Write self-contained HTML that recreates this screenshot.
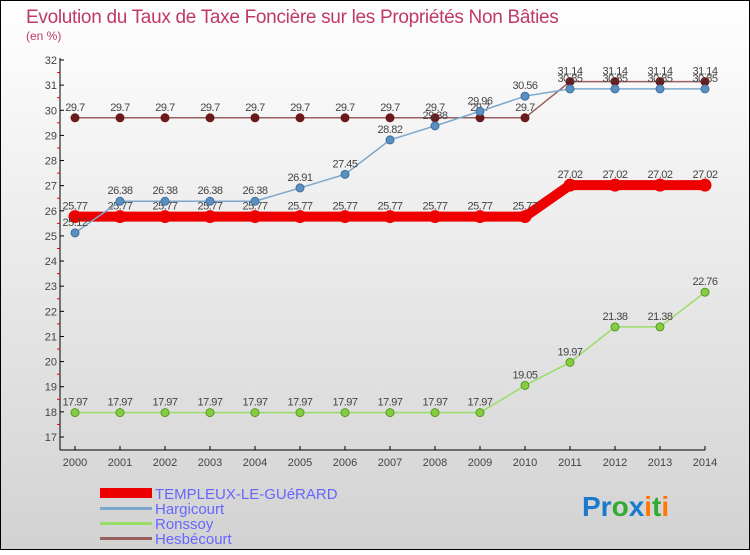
<!DOCTYPE html>
<html><head><meta charset="utf-8"><style>
html,body{margin:0;padding:0}
body{width:750px;height:550px;overflow:hidden;font-family:"Liberation Sans",sans-serif}
</style></head><body>
<svg id="chart" width="750" height="550" xmlns="http://www.w3.org/2000/svg">
<defs><linearGradient id="bg" x1="0" y1="0" x2="0" y2="1"><stop offset="0" stop-color="#ffffff"/><stop offset="1" stop-color="#d2d2d2"/></linearGradient></defs>
<rect x="0.5" y="0.5" width="749" height="549" fill="url(#bg)" stroke="#000"/>
<text x="26" y="23" font-size="19" fill="#c0386a" letter-spacing="-0.3">Evolution du Taux de Taxe Foncière sur les Propriétés Non Bâties</text>
<text x="26" y="40" font-size="12" fill="#c0386a">(en %)</text>
<g id="axes"></g><g id="series"></g>
<g>
<rect x="100" y="488" width="52" height="10" fill="#ee0000"/>
<text x="155" y="499" font-size="15" fill="#6666ff">TEMPLEUX-LE-GUéRARD</text>
<rect x="100" y="507" width="52" height="3" fill="#7ba7cc"/>
<text x="155" y="514" font-size="15" fill="#6666ff">Hargicourt</text>
<rect x="100" y="522" width="52" height="3" fill="#99dd66"/>
<text x="155" y="529" font-size="15" fill="#6666ff">Ronssoy</text>
<rect x="100" y="537" width="52" height="3" fill="#9a5f5f"/>
<text x="155" y="544" font-size="15" fill="#6666ff">Hesbécourt</text>
</g>
<text x="582" y="516" font-size="28" font-weight="bold"><tspan fill="#1a7acc">Pr</tspan><tspan fill="#33aa33">o</tspan><tspan fill="#1a7acc">x</tspan><tspan fill="#ff7700">i</tspan><tspan fill="#33aa33">t</tspan><tspan fill="#ff7700">i</tspan></text>
</svg>
<script>
const years=[2000,2001,2002,2003,2004,2005,2006,2007,2008,2009,2010,2011,2012,2013,2014];
const templeux=[25.77,25.77,25.77,25.77,25.77,25.77,25.77,25.77,25.77,25.77,25.77,27.02,27.02,27.02,27.02];
const hargicourt=[25.12,26.38,26.38,26.38,26.38,26.91,27.45,28.82,29.38,29.96,30.56,30.85,30.85,30.85,30.85];
const ronssoy=[17.97,17.97,17.97,17.97,17.97,17.97,17.97,17.97,17.97,17.97,19.05,19.97,21.38,21.38,22.76];
const hesbecourt=[29.7,29.7,29.7,29.7,29.7,29.7,29.7,29.7,29.7,29.7,29.7,31.14,31.14,31.14,31.14];
const yTicks=[17,18,19,20,21,22,23,24,25,26,27,28,29,30,31,32];
const NS='http://www.w3.org/2000/svg';
const X=i=>75+i*45;
const Y=v=>437-(v-17)*(377/15);
function mk(t,a,p){const e=document.createElementNS(NS,t);for(const k in a)e.setAttribute(k,a[k]);p.appendChild(e);return e;}
const ax=document.getElementById('axes');
let l=mk('line',{x1:60,y1:58,x2:60,y2:450,stroke:'#000'},ax);


l=mk('line',{x1:60,y1:450,x2:705,y2:450,stroke:'#000'},ax);


yTicks.forEach(v=>{
 mk('line',{x1:60,y1:Y(v),x2:64,y2:Y(v),stroke:'#000'},ax);
 if(v<32)mk('line',{x1:57,y1:Y(v+0.5),x2:60,y2:Y(v+0.5),stroke:'#e00'},ax);
 const t=mk('text',{x:57,y:Y(v)+4,'font-size':11,fill:'#444','text-anchor':'end'},ax);t.textContent=v;
 
 
});
years.forEach((y,i)=>{
 mk('line',{x1:X(i),y1:446,x2:X(i),y2:450,stroke:'#000'},ax);
 const t=mk('text',{x:X(i),y:466,'font-size':11,fill:'#444','text-anchor':'middle'},ax);t.textContent=y;
 
 
});
const sg=document.getElementById('series');
function series(vals,name,color,w,r,dot,dotStroke){
 const g=mk('g',{},sg);
 
 
 const pl=mk('polyline',{points:vals.map((v,i)=>X(i)+','+Y(v)).join(' '),fill:'none',stroke:color,'stroke-width':w},g);
 
 
 vals.forEach((v,i)=>{
  const c=mk('circle',{cx:X(i),cy:Y(v),r:r,fill:dot,stroke:dotStroke,'stroke-width':1},g);
  
  
  const t=mk('text',{x:X(i),y:Y(v)-7,'font-size':11,fill:'#444','text-anchor':'middle','letter-spacing':'-0.5'},g);
  t.textContent=v;
  
  
 });
}
series(hesbecourt,'hesbecourt','#9a5f5f',1.5,4,'#6a1a1a','#6a1a1a');
series(ronssoy,'ronssoy','#99dd66',1.5,4,'#88cc44','#559922');
series(templeux,'templeux','#ee0000',10,6,'#ee0000','#ee0000');
series(hargicourt,'hargicourt','#7ba7cc',1.5,4,'#5a8fc2','#3f6f9f');
</script>
</body></html>
